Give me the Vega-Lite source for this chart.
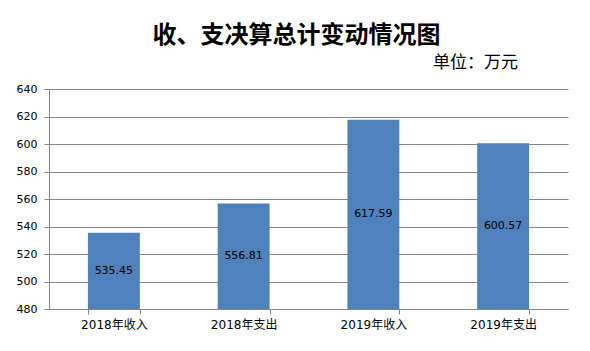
{
  "$schema": "https://vega.github.io/schema/vega-lite/v6.json",
  "width": 519,
  "height": 220,
  "autosize": {"type": "none"},
  "padding": {"left": 49, "top": 89, "right": 22, "bottom": 42},
  "background": "white",
  "title": {
    "text": "收、支决算总计变动情况图",
    "anchor": "middle",
    "frame": "group",
    "font": "Noto Sans CJK SC",
    "fontSize": 24,
    "fontWeight": "bold",
    "color": "black",
    "dx": -12,
    "dy": 33,
    "offset": 38
  },
  "config": {
    "view": {"stroke": null},
    "axis": {
      "domainColor": "#868686",
      "tickColor": "#868686",
      "gridColor": "#868686",
      "labelColor": "black",
      "labelFont": "DejaVu Sans, Noto Sans CJK SC",
      "tickSize": 5
    }
  },
  "data": {
    "values": [
      {"category": "2018年收入", "value": 535.45},
      {"category": "2018年支出", "value": 556.81},
      {"category": "2019年收入", "value": 617.59},
      {"category": "2019年支出", "value": 600.57}
    ]
  },
  "transform": [{"calculate": "(datum.value + 480) / 2", "as": "mid"}],
  "encoding": {
    "x": {
      "field": "category",
      "type": "nominal",
      "sort": null,
      "scale": {"paddingInner": 0.6, "paddingOuter": 0.3},
      "axis": {
        "title": null,
        "labelAngle": 0,
        "labelFontSize": 12,
        "labelPadding": 5,
        "tickBand": "extent",
        "grid": false
      }
    }
  },
  "layer": [
    {
      "mark": {"type": "bar", "color": "#4F81BD"},
      "encoding": {
        "y": {
          "field": "value",
          "type": "quantitative",
          "scale": {"domain": [480, 640], "zero": false, "nice": false},
          "axis": {
            "values": [480, 500, 520, 540, 560, 580, 600, 620, 640],
            "labelOverlap": false,
            "grid": true,
            "labelFontSize": 11,
            "labelPadding": 7,
            "title": "单位：万元",
            "titleAngle": 0,
            "titleFont": "Noto Sans CJK SC",
            "titleFontSize": 17,
            "titleFontWeight": "normal",
            "titleColor": "black",
            "titleX": 426,
            "titleY": -27,
            "titleAlign": "center",
            "titleBaseline": "middle"
          }
        },
        "y2": {"datum": 480}
      }
    },
    {
      "mark": {"type": "text", "font": "DejaVu Sans", "fontSize": 11, "color": "black", "baseline": "middle"},
      "encoding": {
        "y": {
          "field": "mid",
          "type": "quantitative",
          "scale": {"domain": [480, 640], "zero": false, "nice": false},
          "axis": {
            "values": [480, 500, 520, 540, 560, 580, 600, 620, 640],
            "labelOverlap": false,
            "grid": true,
            "labelFontSize": 11,
            "labelPadding": 7,
            "title": "单位：万元",
            "titleAngle": 0,
            "titleFont": "Noto Sans CJK SC",
            "titleFontSize": 17,
            "titleFontWeight": "normal",
            "titleColor": "black",
            "titleX": 426,
            "titleY": -27,
            "titleAlign": "center",
            "titleBaseline": "middle"
          }
        },
        "text": {"field": "value", "type": "quantitative", "format": ".2f"}
      }
    }
  ]
}
